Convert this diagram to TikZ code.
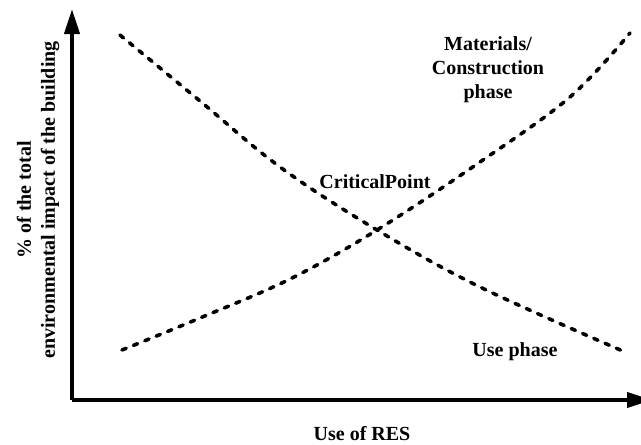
\documentclass[tikz,border=0pt]{standalone}
\usepackage{fontspec}
\setmainfont{Liberation Serif}
\usetikzlibrary{arrows.meta}
\begin{document}
\begin{tikzpicture}[x=1pt,y=-1pt,
  axis/.style={line width=4pt,-{Triangle[length=25pt,width=15pt]}},
  curve/.style={line width=3.6pt,line cap=round,dash pattern=on 4.5pt off 7.8pt},
  lbl/.style={font=\fontsize{20}{24}\selectfont\bfseries,align=center,inner sep=0pt}]
\clip (0,0) rectangle (641,445);
\fill[white] (0,0) rectangle (641,445);
\coordinate (O) at (72,400);
\coordinate (Ytip) at (72,9);
\coordinate (Xtip) at (652,400);
\draw[axis] (O) -- (Ytip);
\draw[axis] (O) -- (Xtip);
\draw[curve] plot[smooth,tension=0.6] coordinates {(120,35) (200,101) (280,167) (377,230) (480,287) (625,352)};
\draw[curve] plot[smooth,tension=0.6] coordinates {(122,350) (200,318) (290,279) (377,230) (480,162) (570,97) (630,33)};
\node[lbl] (crit) at (375,182) {CriticalPoint};
\node[lbl] (mat) at (488,70) {Materials/\\Construction\\phase};
\node[lbl] (use) at (515,352) {Use phase};
\node[lbl] (res) at (362,434) {Use of RES};
\node[lbl,rotate=90] (ylab) at (38,200) {\% of the total\\environmental impact of the building};
\end{tikzpicture}
\end{document}
